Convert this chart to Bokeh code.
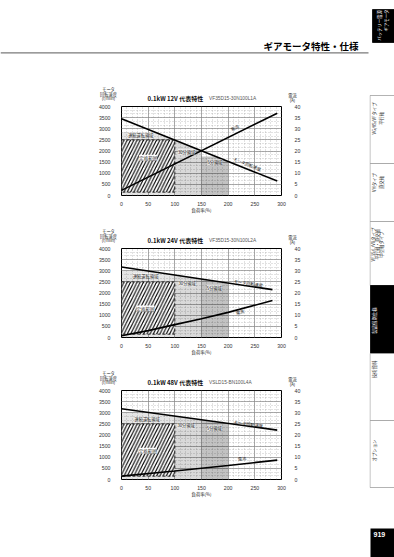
import math
import numpy as np
from bokeh.plotting import figure
from bokeh.models import Range1d, LinearAxis, FixedTicker, Label
from bokeh.layouts import column, row
from bokeh.embed import file_html
from bokeh.resources import INLINE
from bokeh.core.properties import value

# ---------------- data ----------------
PAGE_TITLE = "ギアモータ特性・仕様"
PAGE_NUMBER = "919"
TAB_LINES = [
    ["バッテリー電源", "ギアモータ"],
    ["VG/VS/VFタイプ", "平行軸"],
    ["VHタイプ", "直交軸"],
    ["VF35/L/VXタイプ", "平行軸・直交軸", "中空軸タイプ"],
    ["製品個別仕様"],
    ["技術資料"],
    ["オプション"],
]
TAB_ACTIVE = [True, False, False, False, True, False, False]

LOAD_TICKS = [0, 50, 100, 150, 200, 250, 300]
SPEED_TICKS = [0, 500, 1000, 1500, 2000, 2500, 3000, 3500, 4000]
CURRENT_TICKS = [0, 5, 10, 15, 20, 25, 30, 35, 40]

CHART_TITLES = ["0.1kW 12V 代表特性", "0.1kW 24V 代表特性", "0.1kW 48V 代表特性"]
CHART_MODELS = ["VF35D15-30N100L1A", "VF35D15-30N100L2A", "VSLD15-BN100L4A"]
Y_LABEL_LINES = ["モータ", "回転速度", "(r/min)"]
Y2_LABEL_LINES = ["電流", "(A)"]
X_LABEL = "負荷率(%)"
SPEED_NAME = "モータ回転速度"
CURRENT_NAME = "電流"

SPEED_X = [[0, 292], [0, 283], [0, 292]]
SPEED_Y = [[3450, 650], [3170, 2150], [3180, 2220]]
CURRENT_X = [[0, 292], [0, 50, 100, 150, 200, 283], [0, 100, 200, 292]]
CURRENT_Y = [[2.3, 37.0], [0.8, 3.1, 5.8, 8.4, 11.3, 16.6], [1.5, 3.8, 6.3, 8.7]]

ZONE_NAMES = ["連続運転領域", "30分領域", "5分領域"]
ZONE_X0 = [0, 100, 150]
ZONE_X1 = [100, 150, 200]
ZONE_CAP = [[2850, 2500, 1750], [3000, 3000, 3000], [3000, 3000, 3000]]
RATED_NAME = "定格範囲"
RATED_X = [0, 100]
RATED_Y = [150, 2500]

# ---------------- style / layout ----------------
FONT_JP = "Noto Sans CJK JP"
FONT_NUM = "Liberation Sans"
PAGE_W, PAGE_H = 394, 557
TAB_X0 = 369
LEFT_W = TAB_X0
HEAD_H = 73
STRIP_H = 30
BL, BR, BT, BB = 121, LEFT_W - 281, 3, 20
FRAME_H = 89
CHART_H = BT + FRAME_H + BB
FOOT_H = PAGE_H - HEAD_H - 3 * (STRIP_H + CHART_H)
FRAME_W = LEFT_W - BL - BR
ZONE_ALPHA = [0.10, 0.15, 0.24]

LABEL_POS = [
    {"zones": [(36, 2700), (122, 1950), (175, 1500)], "rated": (50, 1700), "speed": (236, 1420), "cur": (212, 3050)},
    {"zones": [(45, 2760), (123, 2430), (174, 2240)], "rated": (45, 1300), "speed": (238, 2450), "cur": (222, 1150)},
    {"zones": [(48, 2700), (121, 2430), (174, 2300)], "rated": (49, 1290), "speed": (238, 2510), "cur": (226, 950)},
]

X_MAX = LOAD_TICKS[-1]
Y_MAX = SPEED_TICKS[-1]
C_MAX = CURRENT_TICKS[-1]
KX = FRAME_W / X_MAX
KY = FRAME_H / Y_MAX


def lbl(p, x, y, text, size="4.2px", angle=0.0, bg=None, bg_alpha=1.0):
    p.add_layout(Label(x=x, y=y, text=text, text_font=FONT_JP, text_font_size=size,
                       text_align="center", text_baseline="middle", text_color="#222222",
                       angle=angle, background_fill_color=bg, background_fill_alpha=bg_alpha))


def blank_fig(w, h, xr, yr):
    f = figure(width=w, height=h, x_range=xr, y_range=yr, toolbar_location=None,
               output_backend="svg", min_border=0, outline_line_color=None,
               x_axis_type=None, y_axis_type=None, background_fill_color="white",
               border_fill_color="white")
    f.grid.visible = False
    return f


def ptext(f, x, y, t, size, font=FONT_JP, align="center", color="#222222", style="normal", angle=0.0):
    f.text(x=[x], y=[y], text=[t], text_align=align, text_baseline="middle",
           text_font=value(font), text_font_size=size, text_color=color,
           text_font_style=style, angle=angle)


def build_strip(i):
    s = blank_fig(LEFT_W, STRIP_H, Range1d(0, LEFT_W), Range1d(STRIP_H, 0))
    top = STRIP_H + BT  # frame top in strip coordinates
    ptext(s, 147, top - 8, CHART_TITLES[i], "6px", align="left", color="#111111", style="bold")
    ptext(s, 208.5, top - 8, CHART_MODELS[i], "4.8px", font=FONT_NUM, align="left", color="#555555")
    for k, t in enumerate(Y_LABEL_LINES):
        ptext(s, 108, top - [17.5, 13, 8.4][k], t, "4.2px")
    for k, t in enumerate(Y2_LABEL_LINES):
        ptext(s, 292, top - [11.5, 7][k], t, "4.2px")
    return s


def build_chart(i):
    p = figure(width=LEFT_W, height=CHART_H, x_range=Range1d(0, X_MAX), y_range=Range1d(0, Y_MAX),
               toolbar_location=None, output_backend="svg",
               min_border_left=BL, min_border_right=BR, min_border_top=BT, min_border_bottom=BB,
               outline_line_color="black", outline_line_width=1,
               background_fill_color="white", border_fill_color="white")
    p.extra_y_ranges = {"cur": Range1d(0, C_MAX)}
    p.add_layout(LinearAxis(y_range_name="cur"), "right")

    p.below[0].ticker = FixedTicker(ticks=LOAD_TICKS)
    p.left[0].ticker = FixedTicker(ticks=SPEED_TICKS)
    p.right[0].ticker = FixedTicker(ticks=CURRENT_TICKS)
    for ax in p.axis:
        ax.axis_line_color = None
        ax.major_tick_line_color = None
        ax.minor_tick_line_color = None
        ax.major_label_text_font = FONT_NUM
        ax.major_label_text_font_size = "5.2px"
        ax.major_label_text_color = "#333333"
    p.left[0].major_label_standoff = 5
    p.right[0].major_label_standoff = 7
    p.below[0].major_label_standoff = 0
    p.below[0].axis_label = X_LABEL
    p.below[0].axis_label_text_font = FONT_JP
    p.below[0].axis_label_text_font_size = "4.3px"
    p.below[0].axis_label_text_font_style = "normal"
    p.below[0].axis_label_text_color = "#222222"
    p.below[0].axis_label_standoff = -2

    xstep = LOAD_TICKS[1] - LOAD_TICKS[0]
    ystep = SPEED_TICKS[1] - SPEED_TICKS[0]
    p.xgrid.ticker = FixedTicker(ticks=LOAD_TICKS,
                                 minor_ticks=[v for v in range(0, X_MAX + 1, xstep // 5)])
    p.ygrid.ticker = FixedTicker(ticks=SPEED_TICKS,
                                 minor_ticks=[k * ystep / 3 for k in range(0, 3 * len(SPEED_TICKS))])
    p.grid.grid_line_color = "#8a8a8a"
    p.grid.grid_line_width = 0.7
    p.grid.minor_grid_line_color = "#a0a0a0"
    p.grid.minor_grid_line_width = 0.6
    p.grid.minor_grid_line_dash = "1 2"

    sx, sy = SPEED_X[i], SPEED_Y[i]
    for z in range(len(ZONE_NAMES)):
        xs = np.linspace(ZONE_X0[z], ZONE_X1[z], 41)
        top = np.minimum(ZONE_CAP[i][z], np.interp(xs, sx, sy))
        px = [ZONE_X0[z]] + list(xs) + [ZONE_X1[z]]
        py = [0] + list(top) + [0]
        p.patch(px, py, fill_color="black", fill_alpha=ZONE_ALPHA[z], line_color=None)

    p.quad(left=[RATED_X[0]], right=[RATED_X[1]], bottom=[RATED_Y[0]], top=[RATED_Y[1]],
           fill_color="white", hatch_pattern="/", hatch_color="black", hatch_weight=1.1,
           hatch_scale=6.5, line_color="black", line_dash="3 2", line_width=0.8)

    p.line(sx, sy, line_color="black", line_width=1.6)
    p.line(CURRENT_X[i], CURRENT_Y[i], y_range_name="cur", line_color="black", line_width=1.6)

    pos = LABEL_POS[i]
    for z in range(len(ZONE_NAMES)):
        zx, zy = pos["zones"][z]
        lbl(p, zx, zy, ZONE_NAMES[z], bg="white", bg_alpha=0.55)
    rx, ry = pos["rated"]
    lbl(p, rx, ry, RATED_NAME, size="4.5px", bg="white", bg_alpha=1.0)

    sang = math.atan2((sy[-1] - sy[0]) * KY, (sx[-1] - sx[0]) * KX)
    cx, cy = CURRENT_X[i], CURRENT_Y[i]
    cang = math.atan2((cy[-1] - cy[0]) * FRAME_H / C_MAX, (cx[-1] - cx[0]) * KX)
    lbl(p, pos["speed"][0], pos["speed"][1], SPEED_NAME, angle=sang)
    lbl(p, pos["cur"][0], pos["cur"][1], CURRENT_NAME, angle=cang)
    return p


# header
hdr = blank_fig(LEFT_W, HEAD_H, Range1d(0, LEFT_W), Range1d(HEAD_H, 0))
ptext(hdr, 358, 45.5, PAGE_TITLE, "9.5px", align="right", color="black", style="bold")
hdr.segment(x0=[0], y0=[52.3], x1=[368], y1=[52.3], line_color="#7a7a7a", line_width=1.3)

# each non-chart strip is wrapped in its own row so it is not frame-aligned with the charts
blocks = [row(hdr)]
for i in range(3):
    blocks.append(row(build_strip(i)))
    blocks.append(build_chart(i))
foot = blank_fig(LEFT_W, FOOT_H, Range1d(0, LEFT_W), Range1d(FOOT_H, 0))
blocks.append(row(foot))

# side tabs
tabs = blank_fig(PAGE_W - TAB_X0, PAGE_H, Range1d(TAB_X0, PAGE_W), Range1d(PAGE_H, 0))
TAB_BOX = [(372, 9, 42), (369.5, 95, 163), (369.5, 163, 221), (369.5, 221, 285),
           (370, 285, 353), (369.5, 353, 420), (369.5, 420, 487)]
TAB_TEXT_X = [[378.3, 385], [373, 380], [373, 380], [372.7, 376.7, 380.7], [373], [373], [373]]
TAB_TEXT_Y = [[25, 20], [118, 118], [182, 182], [244, 244, 244], [320], [369], [450]]
for t in range(len(TAB_LINES)):
    left, y0, y1 = TAB_BOX[t]
    active = TAB_ACTIVE[t]
    tabs.quad(left=[left], right=[PAGE_W + 10], top=[y0], bottom=[y1],
              fill_color="black" if active else "white",
              line_color="black" if active else "#a0a0a0", line_width=0.8)
    for k, line in enumerate(TAB_LINES[t]):
        ptext(tabs, TAB_TEXT_X[t][k], TAB_TEXT_Y[t][k], line, "4.4px",
              color="white" if active else "#333333", angle=math.pi / 2)
tabs.quad(left=[370], right=[PAGE_W + 10], top=[528], bottom=[PAGE_H + 10],
          fill_color="black", line_color=None)
ptext(tabs, 373, 534, PAGE_NUMBER, "7px", font=FONT_NUM, align="left", color="white", style="bold")

layout = row(column(*blocks), tabs)
open("out.html", "w").write(file_html(layout, INLINE))
